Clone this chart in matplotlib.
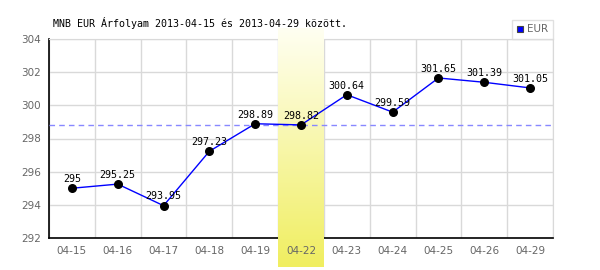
import matplotlib
matplotlib.use("Agg")
import matplotlib.pyplot as plt
import numpy as np
from matplotlib.lines import Line2D
from matplotlib.colors import LinearSegmentedColormap

dates = ["04-15", "04-16", "04-17", "04-18", "04-19", "04-22",
         "04-23", "04-24", "04-25", "04-26", "04-29"]
values = [295, 295.25, 293.95, 297.23, 298.89, 298.82,
          300.64, 299.59, 301.65, 301.39, 301.05]
labels = ["295", "295.25", "293.95", "297.23", "298.89", "298.82",
          "300.64", "299.59", "301.65", "301.39", "301.05"]
highlight_idx = 5
ref_value = 298.82
yticks = [292, 294, 296, 298, 300, 302, 304]
title = "MNB EUR Árfolyam 2013-04-15 és 2013-04-29 között."

fig = plt.figure(figsize=(6, 2.7), dpi=100)
ax = fig.add_axes([49/600, 1-238/270, 504/600, 199/270])
ax.set_facecolor("white")

x = np.arange(len(dates))
ax.set_xlim(-0.5, len(dates)-0.5)
ax.set_ylim(292, 304)

# grid
ax.set_yticks(yticks)
ax.set_xticks(x)
ax.yaxis.set_zorder(0.5)
ax.grid(True, which="major", axis="y", color="#d9d9d9", lw=1)
for b in np.arange(-0.5, len(dates), 1.0):
    ax.axvline(b, color="#d9d9d9", lw=1, zorder=0.6)
ax.xaxis.set_zorder(3.2)
ax.tick_params(which="both", length=0)
ax.tick_params(axis="x", which="major", pad=6, labelsize=7.5, labelcolor="#666666")
ax.tick_params(axis="y", pad=6, labelsize=7.5, labelcolor="#666666")
ax.set_xticklabels(dates, family="DejaVu Sans")

for s in ["top", "right"]:
    ax.spines[s].set_color("#d9d9d9")
for s in ["left", "bottom"]:
    ax.spines[s].set_color("black")
    ax.spines[s].set_linewidth(1.2)

# highlight gradient
grad = np.linspace(0, 1, 256).reshape(-1, 1)
cmap = LinearSegmentedColormap.from_list("hl", ["#fffff2", "#f0ee60"])
ax.imshow(grad, extent=(highlight_idx-0.5, highlight_idx+0.5, -0.146, 1.055),
          transform=ax.get_xaxis_transform(), aspect="auto", cmap=cmap,
          origin="upper", clip_on=False, zorder=3)
ax.set_xlim(-0.5, len(dates)-0.5)
ax.set_ylim(292, 304)

# reference dashed line
ax.axhline(ref_value, color="#8888ff", lw=1, ls=(0, (4, 3)), zorder=3.5)

# data
ax.plot(x, values, color="#0000ff", lw=1, zorder=4)
ax.scatter(x, values, s=30, color="black", zorder=5)
for xi, v, lab in zip(x, values, labels):
    ax.annotate(lab, (xi, v), xytext=(0, 3), textcoords="offset points",
                ha="center", va="bottom", fontsize=7.2,
                family="DejaVu Sans Mono", color="black", zorder=6)

fig.text(53/600, 1-23/270, title, fontsize=7.2, family="DejaVu Sans Mono",
         ha="left", va="center", color="black")

# legend
h = Line2D([], [], marker="s", ls="", markersize=5, markerfacecolor="#0000ff",
           markeredgecolor="#444444", markeredgewidth=0.8)
leg = ax.legend([h], ["EUR"], loc="lower right", bbox_to_anchor=(1.0, 1.0),
                borderaxespad=0, frameon=True, fancybox=False, fontsize=7.5,
                handlelength=0.7, handletextpad=0.3, borderpad=0.45,
                labelcolor="#666666")
leg.get_frame().set_edgecolor("#d9d9d9")
leg.get_frame().set_linewidth(1)

fig.savefig("out.png", dpi=100)
